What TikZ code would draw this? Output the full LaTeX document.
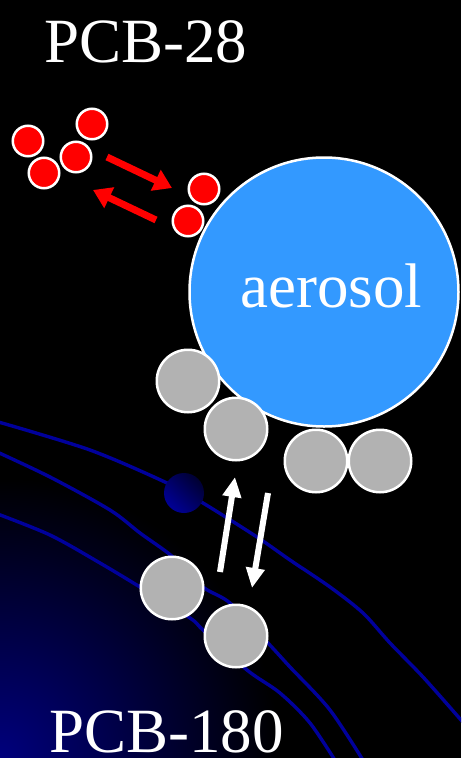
\documentclass[tikz,border=0pt]{standalone}
\usepackage{fontspec}
\setmainfont{Liberation Serif}
\usetikzlibrary{arrows.meta}
\definecolor{aeroblue}{HTML}{3399FF}
\definecolor{ballgray}{HTML}{B2B2B2}
\definecolor{linenavy}{RGB}{0,0,155}
\definecolor{bgnavy}{RGB}{0,0,125}
\definecolor{balldark}{RGB}{0,0,50}
\definecolor{ballbright}{RGB}{0,0,150}
\tikzset{
  redball/.style={circle, draw=white, line width=2.5pt, fill=red, minimum size=30.5pt, inner sep=0pt},
  grayball/.style={circle, draw=white, line width=2.5pt, fill=ballgray, minimum size=62.5pt, inner sep=0pt},
  bigtext/.style={text=white, inner sep=0pt, font=\fontsize{63}{70}\selectfont},
  orbit/.style={draw=linenavy, line width=3.4pt},
  redarrow/.style={draw=red, line width=7pt, -{Triangle[length=18pt, width=22pt]}},
  whitearrow/.style={draw=white, line width=6pt, -{Triangle[length=20pt, width=18pt]}},
}
\begin{document}
\begin{tikzpicture}[x=1pt, y=-1pt]
\useasboundingbox (0,0) rectangle (461,758);
\fill[black] (0,0) rectangle (461,758);
\begin{scope}
\clip (0,0) rectangle (461,758);
\shade[inner color=bgnavy, outer color=black] (0,758) circle (280);
\draw[orbit] plot[smooth, tension=0.5] coordinates {(-5,421) (90,450) (167,483) (203,503) (257,537) (290,560) (330,587) (363,613) (390,643) (423,677) (461,720) (475,737)};
\draw[orbit] plot[smooth, tension=0.5] coordinates {(-5,451) (50,477) (110,510) (140,533) (173,557) (203,587) (230,603) (268,643) (290,667) (330,710) (366,765)};
\draw[orbit] plot[smooth, tension=0.5] coordinates {(-5,513) (50,535) (100,563) (140,587) (190,618) (203,630) (247,670) (280,693) (310,723) (338,765)};
\end{scope}
\shade[top color=balldark, bottom color=ballbright, shading angle=-45] (184,493) circle (20);
\node[circle, draw=white, line width=2.5pt, fill=aeroblue, minimum size=269pt, inner sep=0pt] (aero) at (324,292) {};
\node[bigtext, anchor=base west] (aerolabel) at (240,307) {aerosol};
\node[bigtext, anchor=base west] (t28) at (44,62) {PCB-28};
\node[bigtext, anchor=base west] (t180) at (49,752) {PCB-180};
% red molecules
\node[redball] (r1) at (28,141) {};
\node[redball] (r2) at (44,173) {};
\node[redball] (r3) at (76,157) {};
\node[redball] (r4) at (92,124) {};
\node[redball] (r5) at (204,189) {};
\node[redball] (r6) at (188,221) {};
% red arrows
\coordinate (ra1s) at (107,157);
\coordinate (ra1e) at (172,188);
\coordinate (ra2s) at (156,220);
\coordinate (ra2e) at (93,190);
\draw[redarrow] (ra1s) -- (ra1e);
\draw[redarrow] (ra2s) -- (ra2e);
% gray molecules
\node[grayball] (g1) at (188,381) {};
\node[grayball] (g2) at (236,429) {};
\node[grayball] (g3) at (316,461) {};
\node[grayball] (g4) at (380,461) {};
\node[grayball] (g5) at (172,588) {};
\node[grayball] (g6) at (236,636) {};
% white arrows
\coordinate (wa1s) at (220,572);
\coordinate (wa1e) at (235,477);
\coordinate (wa2s) at (268,493);
\coordinate (wa2e) at (252,588);
\draw[whitearrow] (wa1s) -- (wa1e);
\draw[whitearrow] (wa2s) -- (wa2e);
\end{tikzpicture}
\end{document}
